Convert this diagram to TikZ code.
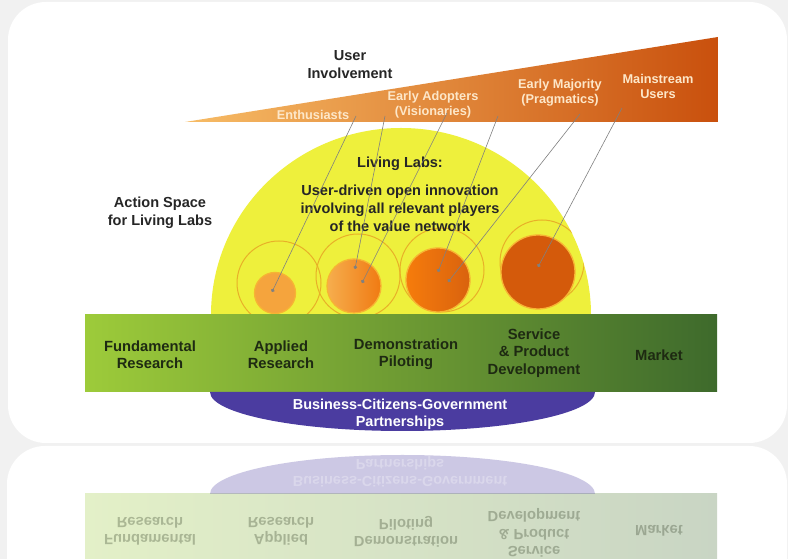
\documentclass[tikz,border=0pt]{standalone}
\usepackage{fontspec}
\setmainfont{Liberation Sans}
\usepackage{tikz}
\usetikzlibrary{calc,positioning,arrows.meta}

\definecolor{cardgray}{HTML}{F1F1F1}
\definecolor{wedgelight}{HTML}{F7BC66}
\definecolor{wedgemid}{HTML}{E98428}
\definecolor{wedgedark}{HTML}{C9500D}
\definecolor{wedgetext}{HTML}{FDE7C9}
\definecolor{labyellow}{HTML}{EEF03C}
\definecolor{ringorange}{RGB}{232,176,40}
\definecolor{ballrim}{HTML}{F7B433}
\definecolor{barleft}{HTML}{9DCB3A}
\definecolor{barmid}{HTML}{6DBD1F}
\definecolor{barright}{HTML}{3E6A2C}
\definecolor{bartext}{HTML}{1E2A12}
\definecolor{pship}{HTML}{4B3CA0}

% bar of stages with the partnership base, used twice
\newcommand{\stagebar}{%
    \shade [left color=barleft, middle color=barmid, right color=barright]
        (85,167) rectangle (717,244);
    \fill [pship] (210,167) arc[start angle=180, end angle=360, x radius=192.5, y radius=39] -- cycle;
    \node[stage] (fund)   at (150,204) {Fundamental\\Research};
    \node[stage] (appl)   at (281,204) {Applied\\Research};
    \node[stage] (demo)   at (406,205) {Demonstration\\Piloting};
    \node[stage] (serv)   at (534,206) {Service\\\& Product\\Development};
    \node[stage] (market) at (659,204) {Market};
    \node[base]  (bcg)    at (400,145) {Business-Citizens-Government\\Partnerships};
}

\begin{document}
\begin{tikzpicture}[x=1bp, y=1bp,
    stage/.style={align=center, font=\fontsize{14.8}{17.5}\selectfont\bfseries, text=bartext},
    base/.style={align=center, font=\fontsize{14.5}{17}\selectfont\bfseries, text=white},
    adopter/.style={align=center, font=\fontsize{12.8}{15}\selectfont\bfseries, text=wedgetext},
    plain/.style={align=center, font=\fontsize{14.6}{18}\selectfont\bfseries, text=black!85},
    ball/.style={circle, inner sep=0pt, draw=ballrim, line width=1.3pt},
    pointer/.style={draw=gray, line width=0.6pt, -{Circle[length=3.6pt]}}]

    \useasboundingbox (0,0) rectangle (788,559);
    \fill[cardgray] (0,0) rectangle (788,559);
    \fill[white, rounded corners=38] (8,116) rectangle (787,557);
    \fill[white, rounded corners=38] (7,-60) rectangle (787,113);

    % user involvement wedge
    \shade [left color=wedgelight, middle color=wedgemid, right color=wedgedark]
        (185,437) -- (718,522) -- (718,437) -- cycle;
    \node[plain] (inv) at (350,494) {User\\Involvement};
    \node[adopter] (enth)  at (313,444) {Enthusiasts};
    \node[adopter] (early) at (433,454) {Early Adopters\\(Visionaries)};
    \node[adopter] (major) at (560,466) {Early Majority\\(Pragmatics)};
    \node[adopter] (main)  at (658,473) {Mainstream\\Users};

    % living labs dome
    \fill[labyellow] (211,244) arc[start angle=180, end angle=0, x radius=190, y radius=187] -- cycle;
    \begin{scope}
        \clip (211,244) arc[start angle=180, end angle=0, x radius=190, y radius=187] -- cycle;
        \foreach \cx/\cy in {279/276, 358/283, 442/289, 542/297}
            \draw[draw=ringorange, line width=1pt] (\cx,\cy) circle[radius=42];
    \end{scope}
    \node[plain] (ll)   at (400,395) {Living Labs:};
    \node[plain] (open) at (400,351) {User-driven open innovation\\involving all relevant players\\of the value network};
    \node[plain] (space) at (160,346) {Action Space\\for Living Labs};

    \node[ball, minimum size=41bp, fill={rgb,255:red,245;green,164;blue,61}] (b1) at (275,266) {};
    \node[ball, minimum size=54bp, left color={rgb,255:red,246;green,174;blue,78},
        right color={rgb,255:red,240;green,122;blue,18}] (b2) at (354,273) {};
    \node[ball, minimum size=64bp, left color={rgb,255:red,246;green,124;blue,12},
        right color={rgb,255:red,217;green,98;blue,14}] (b3) at (438,279) {};
    \node[ball, minimum size=74bp, fill={rgb,255:red,212;green,90;blue,11}] (b4) at (538,287) {};

    % pointers from the adopter groups
    \coordinate (s1) at (356,443);
    \coordinate (s2) at (385,443);
    \coordinate (s3) at (447,446);
    \coordinate (s4) at (498,443);
    \coordinate (s5) at (580,445);
    \coordinate (s6) at (622,451);
    \coordinate (d1) at ($(b1)+(-3,1)$);
    \coordinate (d2) at ($(b2)+(1,17)$);
    \coordinate (d3) at ($(b2)+(8,3)$);
    \coordinate (d4) at ($(b3)+(0,8)$);
    \coordinate (d5) at ($(b3)+(10,-2)$);
    \coordinate (d6) at ($(b4)+(0,5)$);
    \foreach \i in {1,...,6}
        \draw[pointer] (s\i) -- (d\i);

    \stagebar

    % mirrored copy on the lower card
    \begin{scope}
        \clip[rounded corners=38] (7,-60) rectangle (787,113);
        \begin{scope}[name prefix=mirror-, shift={(0,232)}, yscale=-1, transform shape, opacity=0.28]
            \stagebar
        \end{scope}
    \end{scope}
\end{tikzpicture}
\end{document}
